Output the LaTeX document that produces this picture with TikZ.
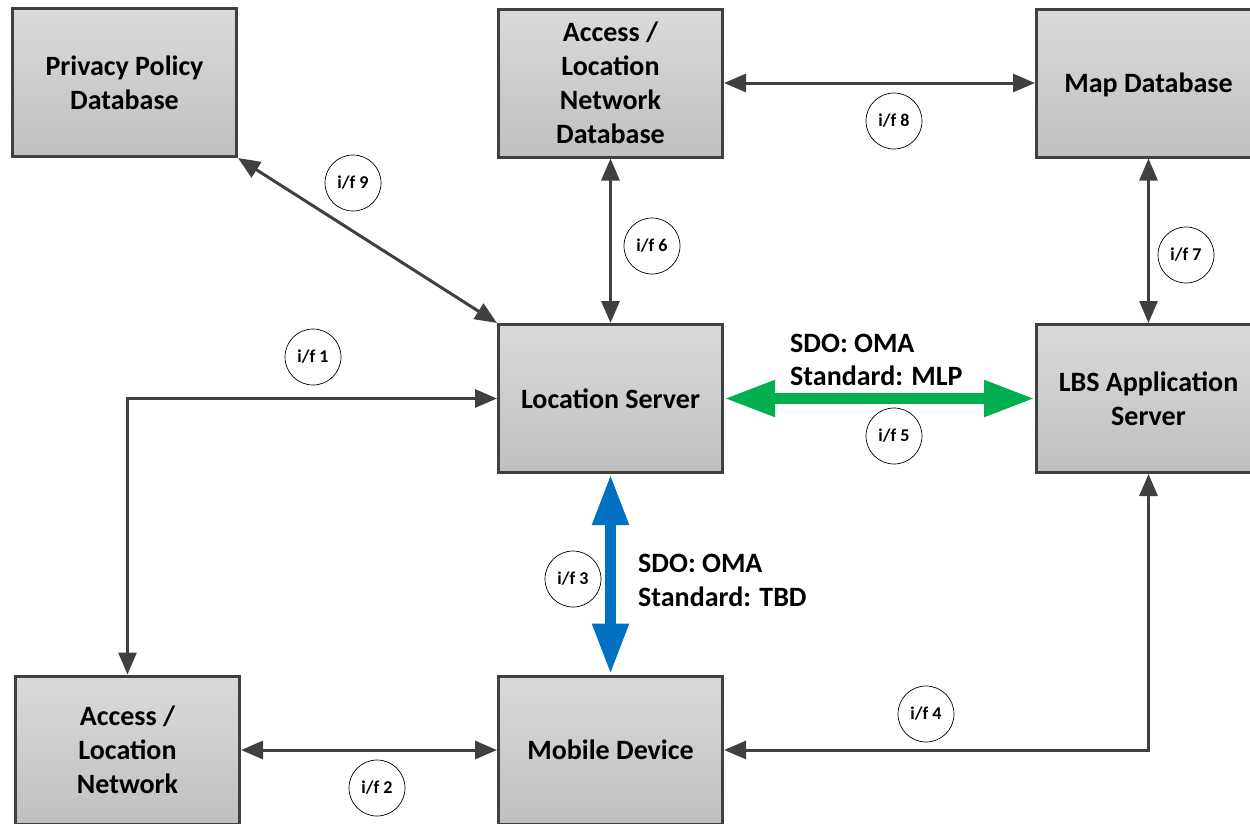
\documentclass[tikz,border=0pt]{standalone}
\usepackage{fontspec}
\setmainfont{Carlito}
\usetikzlibrary{arrows.meta}
\definecolor{edgegray}{HTML}{404040}
\definecolor{boxtop}{HTML}{DADADA}
\definecolor{boxbot}{HTML}{C0C0C0}
\definecolor{mlpgreen}{HTML}{00B050}
\definecolor{tbdblue}{HTML}{0070C0}
\tikzset{
  block/.style={rectangle, draw=edgegray, line width=3pt,
    top color=boxtop, bottom color=boxbot,
    minimum width=224pt, minimum height=148pt, inner sep=0pt,
    text depth=0pt,
    align=center, font=\fontsize{28}{34}\selectfont\bfseries},
  link/.style={draw=edgegray, line width=3pt, line join=miter,
    {Triangle[length=22pt,width=18pt]}-{Triangle[length=22pt,width=18pt]}},
  fatlink/.style={line width=11pt,
    {Triangle[length=51pt,width=34pt]}-{Triangle[length=51pt,width=34pt]}},
  ifbubble/.style={circle, draw=black, line width=0.7pt, fill=white,
    minimum size=56pt, inner sep=0pt, font=\fontsize{18}{20}\selectfont\bfseries},
  stdlabel/.style={anchor=base west, inner sep=0pt,
    font=\fontsize{28}{34}\selectfont\bfseries},
}
\begin{document}
\begin{tikzpicture}[x=1pt,y=-1pt]
\useasboundingbox (0,0) rectangle (1250,823);
\clip (0,0) rectangle (1250,823);

% boxes
\node[block] (pp)   at (124.5,82.5) {Privacy Policy\\Database};
\node[block] (alnd) at (610.5,83)   {Access /\\Location\\Network\\Database};
\node[block] (map)  at (1148.5,83)  {Map Database};
\node[block] (ls)   at (610.5,398.5) {Location Server};
\node[block] (lbs)  at (1148.5,398.5) {LBS Application\\Server};
\node[block] (aln)  at (127.5,750)  {Access /\\Location\\Network};
\node[block] (md)   at (610.5,750)  {Mobile Device};

% interfaces
\draw[link] (pp.south east) -- (ls.north west);
\draw[link] (alnd.south) -- (ls.north);
\draw[link] (alnd.east) -- (map.west);
\draw[link] (map.south) -- (lbs.north);
\draw[link] (ls.west) -| (aln.north);
\draw[link] (aln.east) -- (md.west);
\draw[link] (md.east) -| (lbs.south);
\draw[fatlink, mlpgreen] (ls.east) -- (lbs.west);
\draw[fatlink, tbdblue] (ls.south) -- (md.north);

% interface tags
\node[ifbubble] (if1) at (313,357) {i/f 1};
\node[ifbubble] (if2) at (377,788) {i/f 2};
\node[ifbubble] (if3) at (573,579) {i/f 3};
\node[ifbubble] (if4) at (926,714) {i/f 4};
\node[ifbubble] (if5) at (894,436) {i/f 5};
\node[ifbubble] (if6) at (652,246) {i/f 6};
\node[ifbubble] (if7) at (1186,255) {i/f 7};
\node[ifbubble] (if8) at (894,121) {i/f 8};
\node[ifbubble] (if9) at (353,183) {i/f 9};

% standards annotations
\node[stdlabel] (sdo5) at (790,352) {SDO: OMA};
\node[stdlabel] (std5) at (790,385.5) {Standard: MLP};
\node[stdlabel] (sdo3) at (638,572) {SDO: OMA};
\node[stdlabel] (std3) at (638,606) {Standard: TBD};
\end{tikzpicture}
\end{document}
